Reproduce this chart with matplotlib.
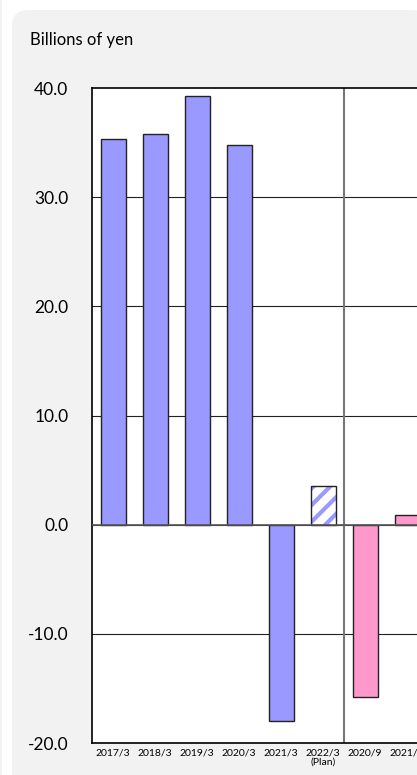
import matplotlib
matplotlib.use("Agg")
import matplotlib.pyplot as plt
from matplotlib.patches import FancyBboxPatch, Rectangle

categories = ["2017/3", "2018/3", "2019/3", "2020/3", "2021/3", "2022/3\n(Plan)", "2020/9", "2021/9"]
values = [35.3, 35.8, 39.3, 34.8, -18.0, 3.5, -15.8, 0.9]
kinds = ["annual", "annual", "annual", "annual", "annual", "plan", "half", "half"]
yticks = [-20.0, -10.0, 0.0, 10.0, 20.0, 30.0, 40.0]
ylabel = "Billions of yen"

BLUE = "#9999ff"
PINK = "#ff99cc"
W, H = 417, 775

plt.rcParams['font.family'] = ['Lato', 'DejaVu Sans']
plt.rcParams['hatch.linewidth'] = 3.0

fig = plt.figure(figsize=(W / 100, H / 100), dpi=100)
fig.patch.set_facecolor("white")

# background panels
fig.add_artist(Rectangle((0, 0), 2 / W, 1, transform=fig.transFigure,
                         facecolor="#f2f2f2", edgecolor="none", zorder=-10))
fig.add_artist(FancyBboxPatch((12 / W, -0.1), 1.0, 1.1 - 10 / H,
                              boxstyle="round,pad=0,rounding_size=0.04",
                              transform=fig.transFigure, mutation_aspect=W / H,
                              facecolor="#f2f2f2", edgecolor="none", zorder=-9))

left_px, top_px, bottom_px = 92, 88, 743
slot = 42
n = len(categories)
right_px = left_px + slot * n
ax = fig.add_axes([left_px / W, 1 - bottom_px / H, (right_px - left_px) / W, (bottom_px - top_px) / H])
ax.set_facecolor("white")
ax.set_xlim(-0.5, n - 0.5)
ax.set_ylim(-20, 40)

for y in yticks[1:-1]:
    ax.axhline(y, color="#222222", lw=0.8, zorder=1)
ax.axvline(5.5, color="#777777", lw=1.5, zorder=1)

bw = 25 / slot
for i, (v, k) in enumerate(zip(values, kinds)):
    if k == "plan":
        ax.bar(i, v, width=bw, color="white", edgecolor=BLUE, hatch="//", lw=0, zorder=2)
        ax.bar(i, v, width=bw, fill=False, edgecolor="#222222", lw=1.0, zorder=3)
    else:
        c = BLUE if k == "annual" else PINK
        ax.bar(i, v, width=bw, color=c, edgecolor="#222222", lw=1.0, zorder=2)

ax.axhline(0, color="#555555", lw=1.2, zorder=4)

for s in ["top", "left", "bottom"]:
    ax.spines[s].set_color("black")
    ax.spines[s].set_linewidth(1.2)
ax.spines["right"].set_visible(False)

ax.set_yticks(yticks)
ax.set_yticklabels([f"{t:.1f}" for t in yticks], fontsize=12.5)
ax.tick_params(axis="y", length=0, pad=17)
ax.set_xticks(range(n))
ax.set_xticklabels(categories, fontsize=7.5, linespacing=0.95, va="top")
ax.tick_params(axis="x", length=0, pad=4)

fig.text(30 / W, 1 - 40 / H, ylabel, fontsize=12, va="center", ha="left")

fig.savefig("out.png", dpi=100, facecolor=fig.get_facecolor())
